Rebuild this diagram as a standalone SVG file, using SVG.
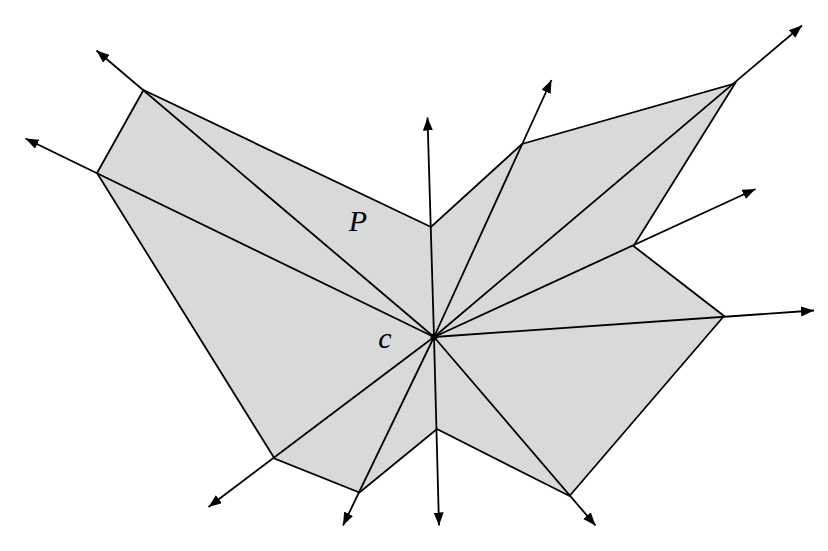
<svg xmlns="http://www.w3.org/2000/svg" width="828" height="551" viewBox="0 0 828 551">
<style>
.poly{fill:#d9d9d9;stroke:#000;stroke-width:1.8;stroke-linejoin:miter}
.ray{stroke:#000;stroke-width:1.8;fill:none;marker-end:url(#ah)}
.lbl{font-family:"Liberation Serif",serif;font-style:italic;fill:#000}
</style>
<defs>
<marker id="ah" markerUnits="userSpaceOnUse" markerWidth="14" markerHeight="11" refX="13" refY="5" orient="auto">
<path d="M0,0 L13,5 L0,10 z" fill="#000"/>
</marker>
</defs>
<g id="polygon-P">
<polygon class="poly" points="143.5,90 431,227 522,144 735,83.5 633.5,246 724,316 569.5,496 437,429 359.5,492.5 274.5,458.5 97,173"/>
</g>
<g id="connectors">
<line class="ray" x1="434" y1="337" x2="96.5" y2="50.5"/>
<line class="ray" x1="434" y1="337" x2="427.5" y2="117.5"/>
<line class="ray" x1="434" y1="337" x2="551.5" y2="80"/>
<line class="ray" x1="434" y1="337" x2="802" y2="25.5"/>
<line class="ray" x1="434" y1="337" x2="755.5" y2="189"/>
<line class="ray" x1="434" y1="337" x2="814" y2="310.5"/>
<line class="ray" x1="434" y1="337" x2="595.5" y2="525.5"/>
<line class="ray" x1="434" y1="337" x2="439" y2="525.5"/>
<line class="ray" x1="434" y1="337" x2="343" y2="525.5"/>
<line class="ray" x1="434" y1="337" x2="208.5" y2="507"/>
<line class="ray" x1="434" y1="337" x2="25.5" y2="138.5"/>
</g>
<g id="center-c">
<circle cx="434" cy="337" r="3.5" fill="#000"/>
<text class="lbl" x="385" y="348" font-size="30" text-anchor="middle">c</text>
</g>
<g id="label-P">
<text class="lbl" x="358" y="230.5" font-size="30" text-anchor="middle">P</text>
</g>
</svg>
